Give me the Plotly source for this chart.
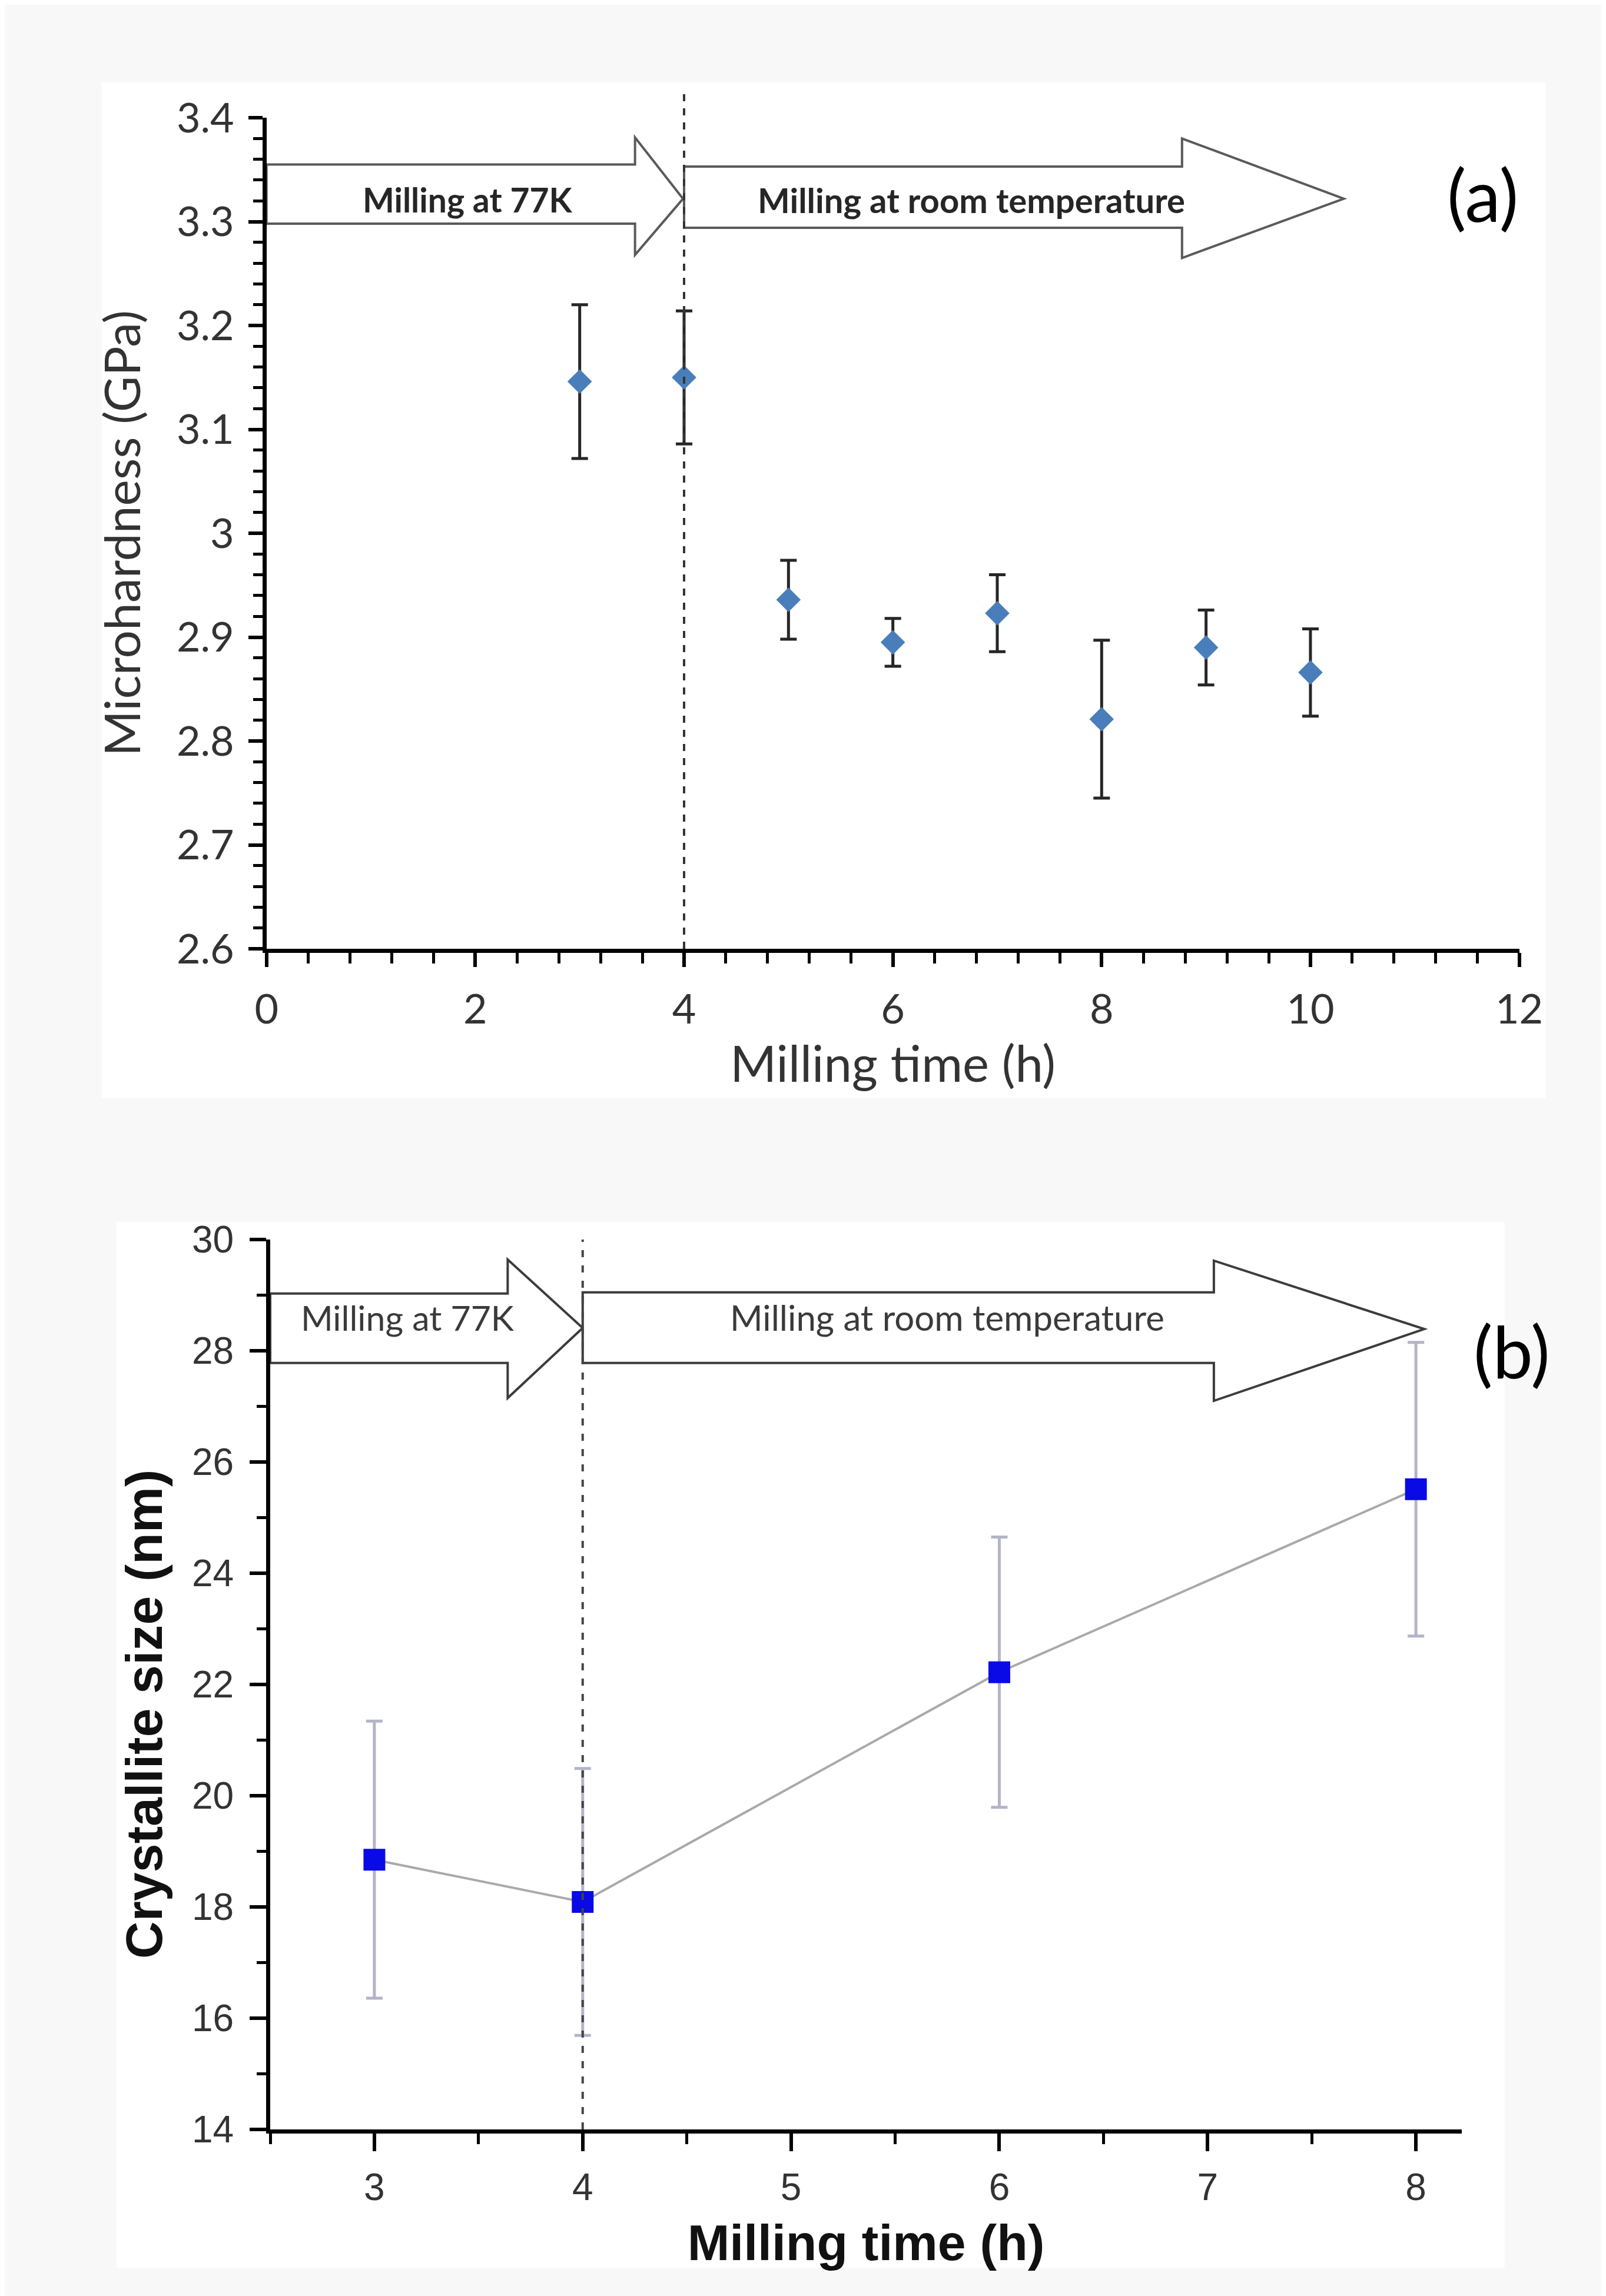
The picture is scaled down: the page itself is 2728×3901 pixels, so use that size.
import plotly.graph_objects as go

# ---------------- data ----------------
# panel (a): microhardness vs milling time
a_time = [3, 4, 5, 6, 7, 8, 9, 10]
a_hardness = [3.146, 3.150, 2.936, 2.895, 2.923, 2.821, 2.890, 2.866]
a_err = [0.074, 0.064, 0.038, 0.023, 0.037, 0.076, 0.036, 0.042]

# panel (b): crystallite size vs milling time
b_time = [3, 4, 6, 8]
b_size = [18.85, 18.09, 22.22, 25.51]
b_err = [2.49, 2.40, 2.43, 2.64]

a_yticks = [2.6, 2.7, 2.8, 2.9, 3.0, 3.1, 3.2, 3.3, 3.4]
a_ytick_labels = ["2.6", "2.7", "2.8", "2.9", "3", "3.1", "3.2", "3.3", "3.4"]

W, H = 2728, 3901

# plot-area pixel boxes -> paper domains
def xdom(x0, x1):
    return [x0 / W, x1 / W]

def ydom(ytop, ybot):
    return [1 - ybot / H, 1 - ytop / H]

fig = go.Figure()

fig.add_trace(go.Scatter(
    x=a_time, y=a_hardness, mode="markers",
    marker=dict(symbol="diamond", size=32, color="#4a7ebb", line=dict(width=0)),
    error_y=dict(type="data", array=a_err, visible=True, color="#262626",
                 thickness=5, width=14),
    xaxis="x", yaxis="y", showlegend=False, cliponaxis=False))

fig.add_trace(go.Scatter(
    x=b_time, y=b_size, mode="lines+markers",
    line=dict(color="#a9a9a9", width=4),
    marker=dict(symbol="square", size=37, color="#0a0ae6", line=dict(width=0)),
    error_y=dict(type="data", array=b_err, visible=True, color="#b3b3c9",
                 thickness=5, width=14),
    xaxis="x2", yaxis="y2", showlegend=False, cliponaxis=False))

# ---------------- arrows ----------------
def arrow_path(x0, xb, xt, yb0, yb1, yh0, yh1, ytip):
    return (f"M {x0},{yb1} L {xb},{yb1} L {xb},{yh1} L {xt},{ytip} "
            f"L {xb},{yh0} L {xb},{yb0} L {x0},{yb0} Z")

shapes = []
# faint page panels
shapes.append(dict(type="rect", xref="paper", yref="paper", layer="below",
                   x0=165 / W, x1=2618 / W, y0=1 - 1858 / H, y1=1 - 132 / H,
                   fillcolor="white", line=dict(width=0)))
shapes.append(dict(type="rect", xref="paper", yref="paper", layer="below",
                   x0=190 / W, x1=2548 / W, y0=1 - 3845 / H, y1=1 - 2068 / H,
                   fillcolor="white", line=dict(width=0)))

# panel a arrows
shapes.append(dict(type="path", xref="x", yref="y", layer="below",
                   path=arrow_path(0, 3.53, 3.99, 3.298, 3.355, 3.268, 3.381, 3.322),
                   fillcolor="white", line=dict(color="#5a5a5a", width=4)))
shapes.append(dict(type="path", xref="x", yref="y", layer="below",
                   path=arrow_path(4.0, 8.77, 10.32, 3.294, 3.353, 3.265, 3.380, 3.322),
                   fillcolor="white", line=dict(color="#5a5a5a", width=4)))
# panel b arrows
shapes.append(dict(type="path", xref="x2", yref="y2", layer="below",
                   path=arrow_path(2.5, 3.64, 4.0, 27.78, 29.03, 27.15, 29.64, 28.41),
                   fillcolor="white", line=dict(color="#3c3c3c", width=4)))
shapes.append(dict(type="path", xref="x2", yref="y2", layer="below",
                   path=arrow_path(4.0, 7.03, 8.04, 27.78, 29.05, 27.10, 29.62, 28.39),
                   fillcolor="white", line=dict(color="#3c3c3c", width=4)))

# dashed separators
shapes.append(dict(type="line", xref="x", yref="y domain", x0=4, x1=4, y0=0, y1=1.034,
                   line=dict(color="#333333", width=4, dash="12px,12px")))
shapes.append(dict(type="line", xref="x2", yref="y2 domain", x0=4, x1=4, y0=0, y1=1.0,
                   line=dict(color="#444444", width=4, dash="12px,14px")))

annotations = [
    dict(text="Milling at 77K", x=1.93, y=3.321, xref="x", yref="y", showarrow=False,
         xanchor="center", yanchor="middle",
         font=dict(family="Lato", size=57, color="#262626", weight="bold")),
    dict(text="Milling at room temperature", x=6.75, y=3.321, xref="x", yref="y",
         xanchor="center", yanchor="middle", showarrow=False,
         font=dict(family="Lato", size=58, color="#262626", weight="bold")),
    dict(text="(a)", x=2510 / W, y=1 - 322 / H, xref="paper", yref="paper", showarrow=False,
         xanchor="center", yanchor="middle",
         font=dict(family="Lato", size=122, color="black")),
    dict(text="Milling at 77K", x=3.16, y=28.6, xref="x2", yref="y2", showarrow=False,
         xanchor="center", yanchor="middle",
         font=dict(family="Lato", size=59, color="#3a3a3a")),
    dict(text="Milling at room temperature", x=5.75, y=28.6, xref="x2", yref="y2",
         xanchor="center", yanchor="middle", showarrow=False,
         font=dict(family="Lato", size=60, color="#3a3a3a")),
    dict(text="(b)", x=2560 / W, y=1 - 2287 / H, xref="paper", yref="paper", showarrow=False,
         xanchor="center", yanchor="middle",
         font=dict(family="Lato", size=122, color="black")),
    # y-axis title of panel (b), placed slightly below the axis centre as in the original
    dict(text="<b>Crystallite size (nm)</b>", x=236 / W, y=1 - 2905 / H,
         xref="paper", yref="paper", showarrow=False, textangle=-90,
         xanchor="center", yanchor="middle",
         font=dict(family="Liberation Sans, Arial", size=88, color="#111111")),
]

tickfont_a = dict(family="Lato", size=70, color="#333333")
tickfont_b = dict(family="Liberation Sans Narrow, Liberation Sans, Arial", size=64, color="#333333")

fig.update_layout(
    width=W, height=H,
    margin=dict(l=0, r=0, t=0, b=0, pad=0, autoexpand=False),
    paper_bgcolor="#f8f8f8",
    plot_bgcolor="rgba(0,0,0,0)",
    shapes=shapes,
    annotations=annotations,
    xaxis=dict(domain=xdom(444.7, 2572.6), anchor="y", range=[0, 12],
               dtick=2, tick0=0, ticks="outside", ticklen=24, tickwidth=6,
               tickcolor="black", showline=True, linewidth=7, linecolor="black",
               showgrid=False, zeroline=False, tickfont=tickfont_a,
               ticklabelstandoff=12, automargin=False,
               minor=dict(dtick=0.4, tick0=0, ticks="outside", ticklen=18,
                          tickwidth=5, tickcolor="black"),
               title=dict(text="Milling time (h)", standoff=28,
                          font=dict(family="Lato", size=85, color="#333333"))),
    yaxis=dict(domain=ydom(192, 1604), anchor="x", range=[2.6, 3.4],
               tickvals=a_yticks, ticktext=a_ytick_labels,
               ticks="outside", ticklen=24, tickwidth=6,
               tickcolor="black", showline=True, linewidth=7, linecolor="black",
               showgrid=False, zeroline=False, tickfont=tickfont_a,
               ticklabelstandoff=10, automargin=False,
               minor=dict(dtick=0.02, tick0=2.6, ticks="outside", ticklen=16,
                          tickwidth=5, tickcolor="black"),
               title=dict(text="Microhardness (GPa)", standoff=36,
                          font=dict(family="Lato", size=84, color="#333333"))),
    xaxis2=dict(domain=xdom(451, 2475), anchor="y2", range=[2.5, 8.22],
                dtick=1, tick0=0, ticks="outside", ticklen=30, tickwidth=6,
                tickcolor="black", showline=True, linewidth=7, linecolor="black",
                showgrid=False, zeroline=False, tickfont=tickfont_b,
                ticklabelstandoff=6, automargin=False,
                minor=dict(dtick=0.5, tick0=0, ticks="outside", ticklen=18,
                           tickwidth=5, tickcolor="black"),
                title=dict(text="<b>Milling time (h)</b>", standoff=32,
                           font=dict(family="Liberation Sans, Arial", size=86, color="#111111"))),
    yaxis2=dict(domain=ydom(2098, 3610), anchor="x2", range=[14, 30],
                dtick=2, tick0=0, ticks="outside", ticklen=28, tickwidth=6,
                tickcolor="black", showline=True, linewidth=7, linecolor="black",
                showgrid=False, zeroline=False, tickfont=tickfont_b,
                ticklabelstandoff=14, automargin=False,
                minor=dict(dtick=1, tick0=0, ticks="outside", ticklen=16,
                           tickwidth=5, tickcolor="black")),
)

fig.write_html("out.html")
